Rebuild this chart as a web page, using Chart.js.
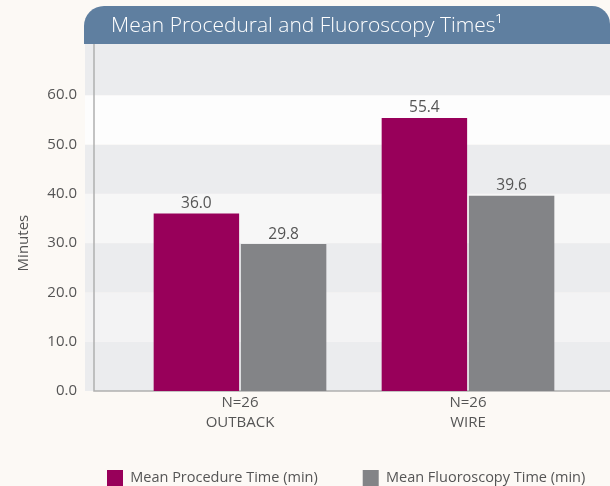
<!DOCTYPE html>
<html>
<head>
<meta charset="utf-8">
<script src="https://cdn.jsdelivr.net/npm/chart.js@4/dist/chart.umd.min.js"></script>
<style>
  body { margin: 0; background: #fcf9f5; }
  #wrap { width: 610px; height: 486px; position: relative; }
</style>
</head>
<body>
<div id="wrap"><canvas id="timesChart"></canvas></div>
<script>
// --- data ---
const groups = [['N=26', 'OUTBACK'], ['N=26', 'WIRE']];
const seriesNames = ['Mean Procedure Time (min)', 'Mean Fluoroscopy Time (min)'];
const procedureTimes = [36.0, 55.4];
const fluoroscopyTimes = [29.8, 39.6];
const minuteTicks = [0, 10, 20, 30, 40, 50, 60];

const MAGENTA = '#98005a';
const GREY = '#838487';
const TEXT = '#555555';

Chart.defaults.font.family = "'Open Sans', 'Noto Sans', sans-serif";
Chart.defaults.color = TEXT;

// background, title banner and alternating bands
const backdrop = {
    id: 'backdrop',
    beforeDraw(chart) {
        const {ctx, width} = chart;
        const y = chart.scales.y;
        ctx.save();
        ctx.fillStyle = '#fcf9f5';
        ctx.fillRect(0, 0, width, chart.height);

        ctx.fillStyle = '#5f7fa0';
        ctx.beginPath();
        ctx.roundRect(84, 6, width - 84, 38, [20, 18, 0, 0]);
        ctx.fill();

        const bands = ['#ebecee', '#f3f3f4', '#ebecee', '#f7f7f7', '#ebecee', '#fdfdfd'];
        bands.forEach((c, i) => {
            const top = y.getPixelForValue((i + 1) * 10);
            const bottom = y.getPixelForValue(i * 10);
            ctx.fillStyle = c;
            ctx.fillRect(85, top, width - 85, bottom - top);
        });
        // strip above the last tick, up to the banner
        ctx.fillStyle = '#ebecee';
        ctx.fillRect(85, 44, width - 85, y.getPixelForValue(60) - 44);

        // axis lines
        const base = y.getPixelForValue(0);
        ctx.strokeStyle = '#b0b0b0';
        ctx.lineWidth = 1.5;
        ctx.beginPath();
        ctx.moveTo(94, 44);
        ctx.lineTo(94, base);
        ctx.lineTo(width, base);
        ctx.stroke();
        ctx.restore();
    },
    afterLayout(chart) {
        // title sits inside the banner
        const t = chart.titleBlock;
        t.left += 111; t.right += 111;
        // legend row starts under the plot, like the original
        const lg = chart.legend;
        const p = lg.options.labels.padding;
        lg.right += 40;
        const startX = (lg.left + p + lg.right - lg.lineWidths[0]) / 2;
        const dx = 107 - startX;
        lg.left += dx; lg.right += dx;
        lg.top = 470 - p;
        lg.bottom = chart.height;
    }
};

// value labels over the bars
const valueLabels = {
    id: 'valueLabels',
    afterDatasetsDraw(chart) {
        const {ctx} = chart;
        ctx.save();
        ctx.fillStyle = TEXT;
        ctx.font = "15.5px 'Open Sans', sans-serif";
        ctx.textAlign = 'center';
        ctx.textBaseline = 'middle';
        chart.data.datasets.forEach((ds, i) => {
            chart.getDatasetMeta(i).data.forEach((bar, j) => {
                ctx.fillText(ds.data[j].toFixed(1), bar.x, bar.y - 10);
            });
        });
        ctx.restore();
    }
};

new Chart(document.getElementById('timesChart'), {
    type: 'bar',
    data: {
        labels: groups,
        datasets: [{
            label: seriesNames[0],
            data: procedureTimes,
            backgroundColor: MAGENTA
        }, {
            label: seriesNames[1],
            data: fluoroscopyTimes,
            backgroundColor: GREY
        }]
    },
    options: {
        responsive: true,
        maintainAspectRatio: false,
        animation: false,
        categoryPercentage: 0.765,
        barPercentage: 0.98,
        layout: { padding: { right: 28 } },
        plugins: {
            title: {
                display: true,
                text: 'Mean Procedural and Fluoroscopy Times¹',
                align: 'start',
                color: '#ffffff',
                font: { size: 21, weight: '300' },
                padding: { top: 13, bottom: 57 }
            },
            legend: {
                position: 'bottom',
                maxHeight: 51,
                labels: {
                    boxWidth: 16,
                    boxHeight: 16,
                    padding: 45,
                    font: { size: 14.5 },
                    color: TEXT
                }
            },
            tooltip: { enabled: false }
        },
        scales: {
            y: {
                min: 0,
                max: 60,
                afterBuildTicks: s => { s.ticks = minuteTicks.map(v => ({ value: v })); },
                afterFit: s => { s.width = 126; },
                grid: { display: false, drawTicks: false },
                border: { display: false },
                ticks: {
                    padding: 49,
                    font: { size: 15 },
                    callback: v => v.toFixed(1)
                },
                title: {
                    display: true,
                    text: 'Minutes',
                    font: { size: 15 },
                    padding: { top: 15 }
                }
            },
            x: {
                afterFit: s => { s.height = 44; },
                grid: { display: false, drawTicks: false },
                border: { display: false },
                ticks: {
                    padding: 2,
                    font: { size: 15, lineHeight: 1.34 }
                }
            }
        }
    },
    plugins: [backdrop, valueLabels]
});
</script>
</body>
</html>
